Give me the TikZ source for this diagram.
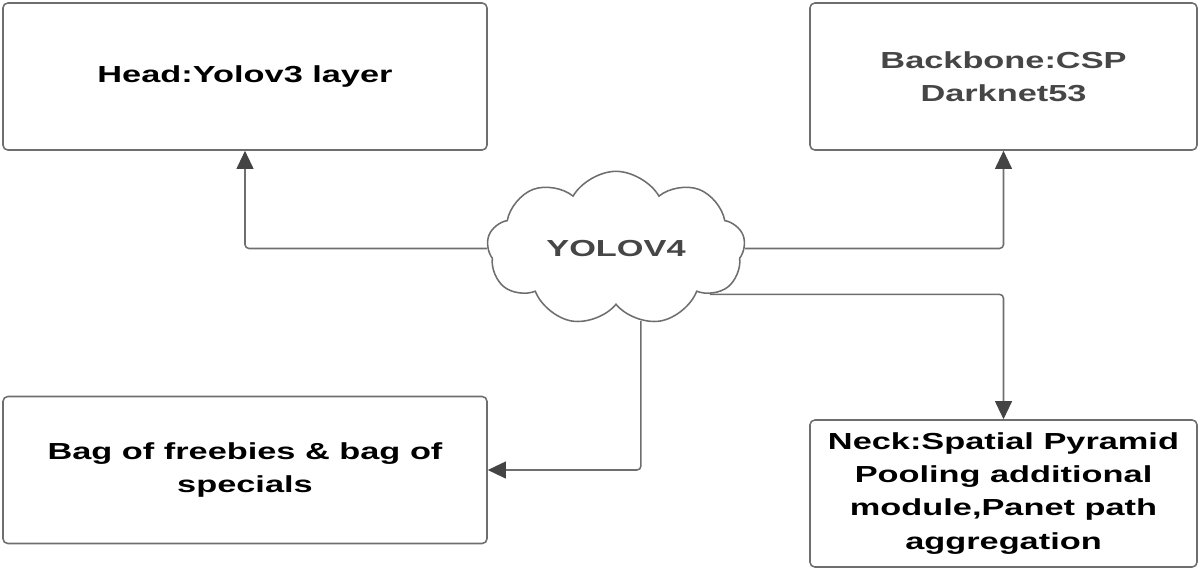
\documentclass[tikz,border=0pt]{standalone}
\usepackage{fontspec}
\setmainfont{Liberation Sans}[FakeStretch=1.48]
\usepackage{tikz}
\usetikzlibrary{arrows.meta,shapes,positioning}
\usepackage{xcolor}
\definecolor{ylline}{RGB}{110,110,110}
\definecolor{ylhead}{RGB}{68,68,68}
\definecolor{yltext}{RGB}{70,70,70}
\tikzstyle{arrow} = [line width=1.1pt,-{Triangle[width=0.42cm,length=0.45cm,color=ylhead]},color=ylline,rounded corners=0.1cm]
\tikzstyle{layerbox} = [rectangle, rounded corners=0.12cm, minimum height=3.675cm, align=center, draw=ylline, line width=1.1pt, inner sep=0pt, font=\fontsize{16.5}{23.5}\selectfont\bfseries]

\begin{document}
\begin{tikzpicture}
\useasboundingbox (0,0) rectangle (30,-14.275);
% Parts
\node[layerbox, minimum width=12.1cm] (head) at (6.125,-1.9125) {Head:Yolov3 layer};
\node[layerbox, minimum width=9.675cm, text=yltext] (backbone) at (25.0875,-1.9125) {Backbone:CSP\\Darknet53};
\node[layerbox, minimum width=12.1cm] (bag) at (6.125,-11.75) {Bag of freebies \& bag of\\specials};
\node[layerbox, minimum width=9.675cm] (neck) at (25.0875,-12.3375) {Neck:Spatial Pyramid\\Pooling additional\\module,Panet path\\aggregation};

% Centre
\node[cloud, cloud puffs=9, cloud puff arc=120, aspect=1.75, draw=ylline, line width=1.1pt, minimum width=6.45cm, minimum height=3.675cm, text=yltext, font=\fontsize{16.5}{20}\selectfont\bfseries] (yolo) at (15.4,-6.2125) {YOLOV4};

\draw[arrow] (yolo.west) -| (head.south);
\draw[arrow] (yolo.east) -| (backbone.south);
\draw[arrow] (yolo.-26) -| (neck.north);
\draw[arrow] (yolo.-71) |- (bag.east);
\end{tikzpicture}
\end{document}
